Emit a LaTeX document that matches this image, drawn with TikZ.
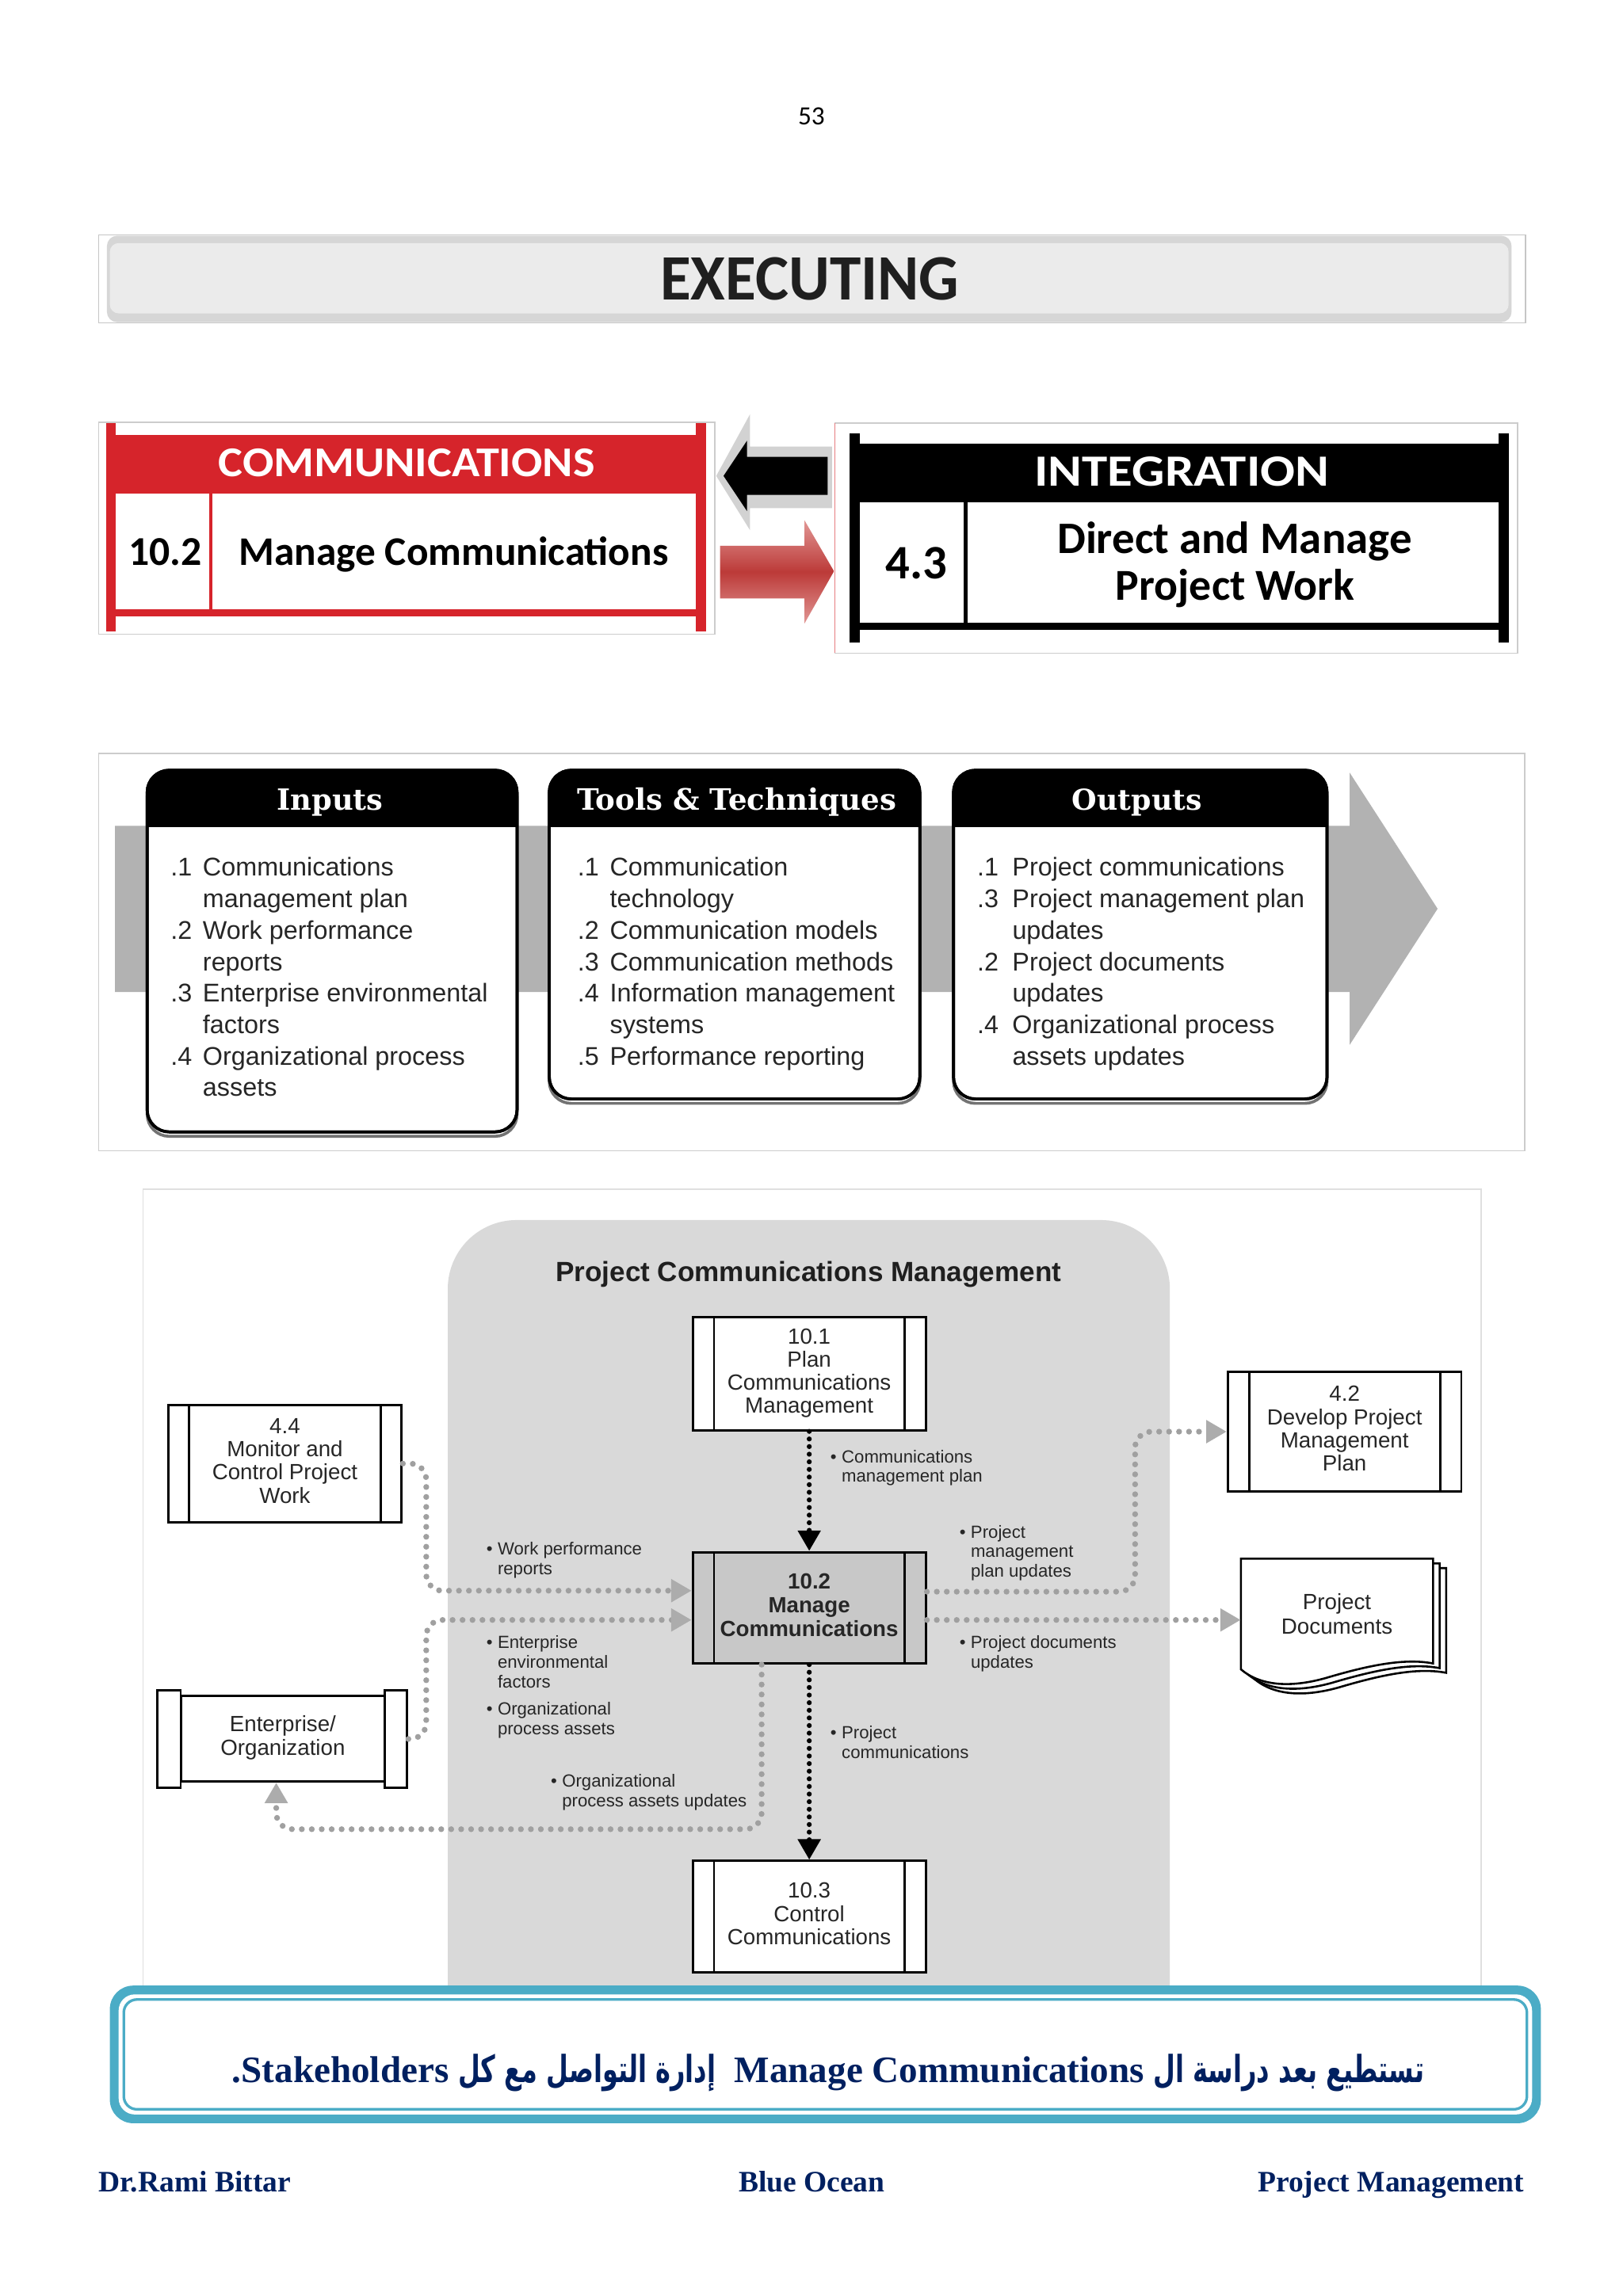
\documentclass[tikz,border=0pt]{standalone}
\usepackage{fontspec}
\usepackage{graphicx}
\setmainfont{Liberation Sans}
\newfontfamily\carlito{Carlito}
\newfontfamily\lserif{Liberation Serif}
\newfontfamily\dserif{DejaVu Serif}
\newfontfamily\arabicfont[Script=Arabic,FakeStretch=0.68]{DejaVu Sans}
\TeXXeTstate=1
\usetikzlibrary{arrows.meta,calc}
\definecolor{cred}{RGB}{214,36,43}
\definecolor{cteal}{RGB}{75,172,198}
\definecolor{cnavy}{RGB}{0,32,96}
\definecolor{gband}{RGB}{178,178,178}
\definecolor{gbg}{RGB}{217,217,217}
\definecolor{gbox}{RGB}{200,200,200}
\definecolor{gdotc}{RGB}{160,160,160}
\definecolor{gtri}{RGB}{172,172,172}
\definecolor{rarrow}{RGB}{188,58,56}
\definecolor{rarrowl}{RGB}{225,150,148}
\newcommand{\numcol}[2][22pt]{\makebox[#1][l]{#2}}
\newcommand{\lbul}{\llap{\textbullet\hspace{3.5pt}}}
\newcommand{\ittobox}[3]{%
  \draw[black!55, line width=2pt, rounded corners=15pt] (#1,529) rectangle (#2,#3+3);
  \draw[line width=2pt, fill=white, rounded corners=15pt] (#1,526) rectangle (#2,#3);
  \begin{scope}\clip (#1-3,520) rectangle (#2+3,564.7);
    \fill[rounded corners=15pt] (#1,526) rectangle (#2,600);
  \end{scope}
  \draw[line width=2pt, rounded corners=15pt] (#1,526) rectangle (#2,#3);}
\newcommand{\docpage}[2]{%
  \draw[line width=1.4pt, fill=white] (847.2+#1,1064.5+#2) -- (978.4+#1,1064.5+#2) -- (978.4+#1,1136+#2)
   .. controls (958+#1,1132+#2) and (932+#1,1138+#2) .. (905+#1,1146+#2)
   .. controls (880+#1,1153+#2) and (860+#1,1151+#2) .. (847.2+#1,1140+#2) -- cycle;}
\tikzset{
  proc/.style={draw, line width=1.6pt, fill=white, minimum width=159pt, minimum height=77pt,
    inner sep=0pt, align=center, text=black!85, font=\fontsize{15}{15.6}\selectfont,
    path picture={
      \draw[line width=1.6pt] ([xshift=14.5pt]path picture bounding box.north west) -- ([xshift=14.5pt]path picture bounding box.south west);
      \draw[line width=1.6pt] ([xshift=-14.5pt]path picture bounding box.north east) -- ([xshift=-14.5pt]path picture bounding box.south east);}},
  itemlist/.style={anchor=north west, inner sep=0pt, align=left, text=black!85, font=\fontsize{17.5}{21.5}\selectfont},
  lab/.style={anchor=north west, inner sep=0pt, align=left, text=black!85, font=\fontsize{12}{13.5}\selectfont},
  gdot/.style={draw=gdotc, line width=4pt, line cap=round, dash pattern=on 0pt off 6.8pt, rounded corners=11pt,
    -{Triangle[length=14pt,width=15pt,color=gtri,fill=gtri]}},
  bdot/.style={draw=black, line width=3.4pt, line cap=round, dash pattern=on 0pt off 5.2pt,
    -{Triangle[length=14pt,width=15pt,color=black,fill=black]}},
  hdr/.style={anchor=base, text=white, inner sep=0pt},
  foot/.style={anchor=base, text=cnavy, inner sep=0pt, font=\lserif\bfseries\fontsize{20.3}{24}\selectfont}
}
\begin{document}
\begin{tikzpicture}[x=1pt,y=-1pt]
\useasboundingbox (0,0) rectangle (1108,1568);
\fill[white] (0,0) rectangle (1108,1568);

% page number
\node[anchor=base, inner sep=0pt] (pg) at (554,85) {\carlito\fontsize{18}{20}\selectfont 53};

% EXECUTING banner
\draw[gray!45, line width=0.8pt] (67.5,160.5) rectangle (1041.5,220.5);
\fill[gray!32, rounded corners=7pt] (73,161) rectangle (1032,220);
\fill[gray!16, rounded corners=6pt] (75,166) rectangle (1030,214);
\node[text=black!88, inner sep=0pt] (exec) at (552.8,190.3) {\resizebox{204pt}{29pt}{\carlito\bfseries EXECUTING}};

% COMMUNICATIONS box
\draw[gray!40, line width=0.8pt] (67.5,288.5) rectangle (488,433);
\fill[cred] (72.5,289) rectangle (79,431);
\fill[cred] (475,289) rectangle (482,431);
\fill[cred] (79,297) rectangle (475,337);
\fill[cred] (79,416) rectangle (475,421);
\draw[cred, line width=2pt] (144,337) -- (144,416);
\node[text=white, inner sep=0pt] (commt) at (277.7,316.3) {\resizebox{257pt}{19pt}{\carlito\bfseries COMMUNICATIONS}};
\node[anchor=base, inner sep=0pt] (n102) at (112.9,386.2) {\resizebox{50pt}{!}{\carlito\bfseries 10.2}};
\node[anchor=base, inner sep=0pt] (mcom) at (309.8,386.2) {\resizebox{293pt}{!}{\carlito\bfseries Manage Communications}};

% arrows between
\fill[gray!35] (489,325) -- (512,283) -- (512,305) -- (568,305) -- (568,347) -- (512,347) -- (512,362) -- cycle;
\fill[black] (494,325) -- (510,301) -- (510,312) -- (565,312) -- (565,338) -- (510,338) -- (510,349) -- cycle;
\shade[top color=rarrowl, bottom color=rarrowl, middle color=rarrow]
  (491.6,372.7) -- (549.3,372.7) -- (549.3,355.4) -- (569.4,390.1) -- (549.3,425.7) -- (549.3,408.7) -- (491.6,408.7) -- cycle;

% INTEGRATION box
\draw[gray!40, line width=0.8pt] (570,289) rectangle (1036,446);
\draw[cred!60, line width=0.8pt] (570,289) -- (570,446);
\fill[black] (580,296) rectangle (587,439);
\fill[black] (1023,296) rectangle (1030,439);
\fill[black] (587,303) rectangle (1023,343);
\fill[black] (587,425.5) rectangle (1023,430);
\draw[line width=2.5pt] (659.2,343) -- (659.2,426);
\node[text=white, inner sep=0pt] (integ) at (806.9,322.2) {\resizebox{201pt}{20pt}{\carlito\bfseries INTEGRATION}};
\node[anchor=base, inner sep=0pt] (n43) at (625.7,395.2) {\resizebox{42pt}{!}{\carlito\bfseries 4.3}};
\node[anchor=base, inner sep=0pt] (dm1) at (842.9,378) {\resizebox{242pt}{!}{\carlito\bfseries Direct and Manage}};
\node[anchor=base, inner sep=0pt] (dm2) at (843.3,409.6) {\resizebox{163pt}{!}{\carlito\bfseries Project Work}};

% ITTO panel
\draw[gray!40, line width=0.8pt] (67.5,514.5) rectangle (1041,786);
\fill[gband] (78.5,564) -- (921.5,564) -- (921.5,527.7) -- (981.5,620.6) -- (921.5,713.5) -- (921.5,677.5) -- (78.5,677.5) -- cycle;
\ittobox{100.5}{353}{773}
\ittobox{375}{628}{750.5}
\ittobox{651}{906}{750.5}
\node[hdr] (hin) at (225.3,553.5) {\resizebox{72.6pt}{!}{\dserif\bfseries Inputs}};
\node[hdr] (htt) at (503.1,553.5) {\resizebox{218pt}{!}{\dserif\bfseries Tools \& Techniques}};
\node[hdr] (hout) at (776.3,553.5) {\resizebox{88.5pt}{!}{\dserif\bfseries Outputs}};
\node[itemlist] (lin) at (116.3,583.05) {\strut\numcol{.1}Communications\\\strut\numcol{}management plan\\\strut\numcol{.2}Work performance\\\strut\numcol{}reports\\\strut\numcol{.3}Enterprise environmental\\\strut\numcol{}factors\\\strut\numcol{.4}Organizational process\\\strut\numcol{}assets};
\node[itemlist] (ltt) at (394.2,583.05) {\strut\numcol{.1}Communication\\\strut\numcol{}technology\\\strut\numcol{.2}Communication models\\\strut\numcol{.3}Communication methods\\\strut\numcol{.4}Information management\\\strut\numcol{}systems\\\strut\numcol{.5}Performance reporting};
\node[itemlist] (lout) at (667,583.05) {\strut\numcol[24pt]{.1}Project communications\\\strut\numcol[24pt]{.3}Project management plan\\\strut\numcol[24pt]{}updates\\\strut\numcol[24pt]{.2}Project documents\\\strut\numcol[24pt]{}updates\\\strut\numcol[24pt]{.4}Organizational process\\\strut\numcol[24pt]{}assets updates};

% flow diagram panel
\draw[gray!25, line width=0.8pt] (97.6,812.2) rectangle (1011.3,1420);
\fill[gbg, rounded corners=47pt] (305.7,833.2) rectangle (798.7,1420);
\node[anchor=base, inner sep=0pt, text=black!88, font=\bfseries\fontsize{19}{21}\selectfont] (ttl) at (552,875) {Project Communications Management};

\node[proc] (m101) at (552.5,938.2) {\strut 10.1\\\strut Plan\\\strut Communications\\\strut Management};
\node[proc, minimum width=159.5pt, minimum height=80pt, font=\fontsize{15}{15.9}\selectfont] (m44) at (194.5,999.5) {\strut 4.4\\\strut Monitor and\\\strut Control Project\\\strut Work};
\node[proc, fill=gbox, minimum height=76pt, font=\bfseries\fontsize{15}{16.2}\selectfont] (m102) at (552.5,1098) {\strut 10.2\\\strut Manage\\\strut Communications};
\node[proc, minimum height=76.3pt, font=\fontsize{15}{16}\selectfont] (m103) at (552.5,1309) {\strut 10.3\\\strut Control\\\strut Communications};
\node[proc, minimum width=159.4pt, minimum height=81.5pt, font=\fontsize{15}{15.9}\selectfont] (m42) at (918,977.7) {\strut 4.2\\\strut Develop Project\\\strut Management\\\strut Plan};

\node[draw, line width=1.6pt, fill=white, minimum width=139.4pt, minimum height=58.6pt, inner sep=0pt, align=center, text=black!85, font=\fontsize{15}{16.3}\selectfont] (ent) at (193.1,1187.3) {\strut Enterprise/\\\strut Organization};
\node[draw, line width=1.6pt, fill=white, minimum width=16pt, minimum height=66.4pt, inner sep=0pt] (entL) at (115.35,1187.6) {};
\node[draw, line width=1.6pt, fill=white, minimum width=15.2pt, minimum height=66.4pt, inner sep=0pt] (entR) at (270.4,1187.6) {};

\docpage{9}{6.4}
\docpage{4.5}{3.2}
\docpage{0}{0}
\node[minimum width=131pt, minimum height=70pt, inner sep=0pt, align=center, text=black!85, font=\fontsize{15}{16.3}\selectfont] (pdoc) at (912.8,1104.3) {\strut Project\\\strut Documents};

% connectors
\draw[bdot] (m101.south) -- (m102.north);
\draw[bdot] (m102.south) -- (m103.north);
\draw[gdot] (m44.east) -- (291,999.5) -- (291,1086.3) -- ($(m102.west)+(0,-11.7)$);
\draw[gdot] (entR.east) -- (291,1187.6) -- (291,1106.3) -- ($(m102.west)+(0,8.3)$);
\draw[gdot] ($(m102.south)+(-32.5,0)$) -- (520,1249.2) -- (188.6,1249.2) -- ($(ent.south)+(-4.5,0)$);
\draw[gdot] ($(m102.east)+(0,-11)$) -- (775,1087) -- (775,977.7) -- (m42.west);
\coordinate (g1) at ($(m102.east)+(0,8.3)$);
\draw[gdot] (g1) -- (g1 -| pdoc.west);

% labels
\node[lab] (l1) at (574.5,989.15) {\strut\lbul Communications\\\strut management plan};
\node[lab] (l2) at (574.5,1177.55) {\strut\lbul Project\\\strut communications};
\node[lab] (l3) at (339.6,1052.35) {\strut\lbul Work performance\\\strut reports};
\node[lab] (l4) at (339.6,1116.15) {\strut\lbul Enterprise\\\strut environmental\\\strut factors};
\node[lab] (l5) at (339.6,1161.25) {\strut\lbul Organizational\\\strut process assets};
\node[lab] (l6) at (383.6,1210.85) {\strut\lbul Organizational\\\strut process assets updates};
\node[lab] (l7) at (662.6,1040.55) {\strut\lbul Project\\\strut management\\\strut plan updates};
\node[lab] (l8) at (662.6,1116.15) {\strut\lbul Project documents\\\strut updates};

% blue message box
\fill[cteal, rounded corners=16pt] (75,1356) rectangle (1052,1450);
\fill[white, rounded corners=11pt] (81,1362) rectangle (1046,1444);
\draw[cteal, line width=1.8pt, rounded corners=9pt] (84.5,1365.5) rectangle (1042.5,1440.5);
\node[anchor=base, inner sep=0pt, text=cnavy] (msg) at (565.4,1422.2) {\resizebox{814pt}{!}{\lserif\bfseries\fontsize{26}{30}\selectfont\beginR{\arabicfont تستطيع بعد دراسة ال} \beginL Manage Communications\endL\ \ {\arabicfont إدارة التواصل مع كل} \beginL Stakeholders\endL.\endR}};

% footer
\node[foot, anchor=base west] (f1) at (67.2,1497) {Dr.Rami Bittar};
\node[foot] (f2) at (554.2,1497) {Blue Ocean};
\node[foot, anchor=base east] (f3) at (1040.7,1497) {Project Management};
\end{tikzpicture}
\end{document}
